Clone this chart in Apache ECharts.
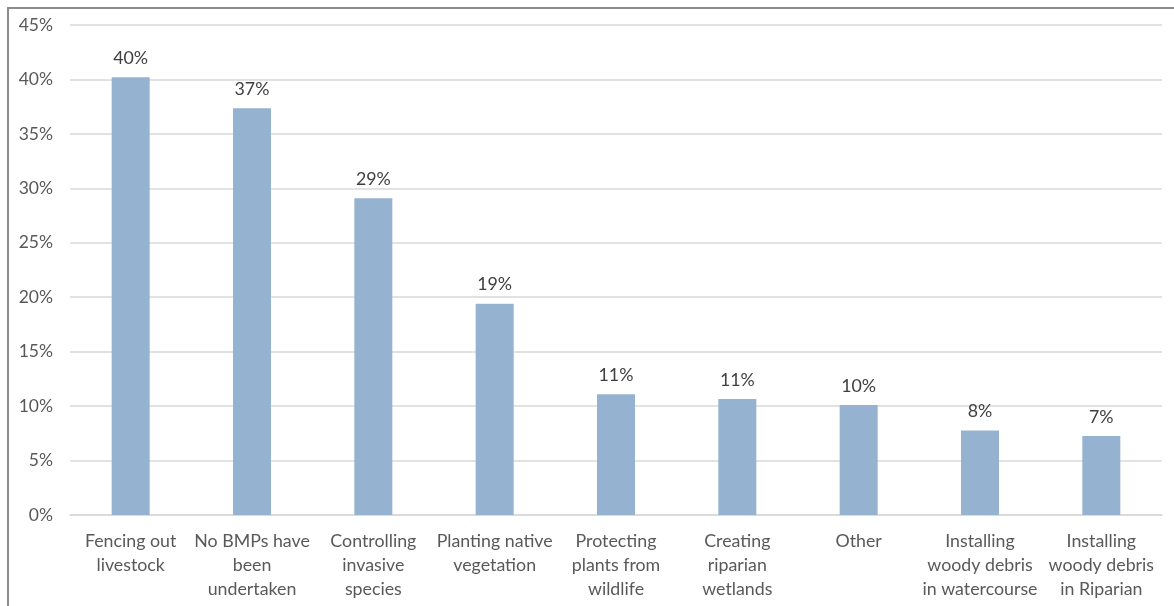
<!DOCTYPE html>
<html>
<head>
<meta charset="utf-8">
<script src="https://cdn.jsdelivr.net/npm/echarts@6/dist/echarts.min.js"></script>
<style>
  html, body { margin: 0; padding: 0; background: #ffffff; }
  #chart { width: 1174px; height: 606px; }
</style>
</head>
<body>
<div id="chart"></div>
<script>
// Riparian best management practices undertaken (share of respondents, %)
const categories = [
  "Fencing out\nlivestock",
  "No BMPs have\nbeen\nundertaken",
  "Controlling\ninvasive\nspecies",
  "Planting native\nvegetation",
  "Protecting\nplants from\nwildlife",
  "Creating\nriparian\nwetlands",
  "Other",
  "Installing\nwoody debris\nin watercourse",
  "Installing\nwoody debris\nin Riparian"
];
const shares = [40.2, 37.35, 29.1, 19.4, 11.1, 10.65, 10.1, 7.75, 7.25];
const yTicks = [0, 5, 10, 15, 20, 25, 30, 35, 40, 45];

const font = "Lato, 'Open Sans', sans-serif";
const textColor = "#595959";

const chart = echarts.init(document.getElementById("chart"));
chart.setOption({
  animation: false,
  backgroundColor: "#ffffff",
  graphic: [{
    type: "rect",
    shape: { x: 8, y: 8, width: 1200, height: 640 },
    style: { fill: "none", stroke: "#8c8c8c", lineWidth: 2 },
    silent: true
  }],
  grid: { left: 70, right: 12, top: 25, bottom: 91, containLabel: false },
  xAxis: {
    type: "category",
    data: categories,
    axisLine: { show: true, lineStyle: { color: "#d9d9d9", width: 1.5 } },
    axisTick: { show: false },
    axisLabel: {
      interval: 0,
      color: textColor,
      fontFamily: font,
      fontSize: 17.8,
      lineHeight: 24,
      margin: 14
    }
  },
  yAxis: {
    type: "value",
    min: yTicks[0],
    max: yTicks[yTicks.length - 1],
    interval: 5,
    axisLine: { show: false },
    axisTick: { show: false },
    splitLine: { lineStyle: { color: "#d9d9d9", width: 1.5 } },
    axisLabel: {
      color: textColor,
      fontFamily: font,
      fontSize: 17.5,
      margin: 17,
      formatter: v => v + "%"
    }
  },
  series: [{
    type: "bar",
    data: shares,
    barWidth: 38,
    itemStyle: { color: "#95b3d1" },
    label: {
      show: true,
      position: "top",
      distance: 10,
      color: "#404040",
      fontFamily: font,
      fontSize: 17.8,
      formatter: p => Math.round(p.value) + "%"
    }
  }]
});
</script>
</body>
</html>
